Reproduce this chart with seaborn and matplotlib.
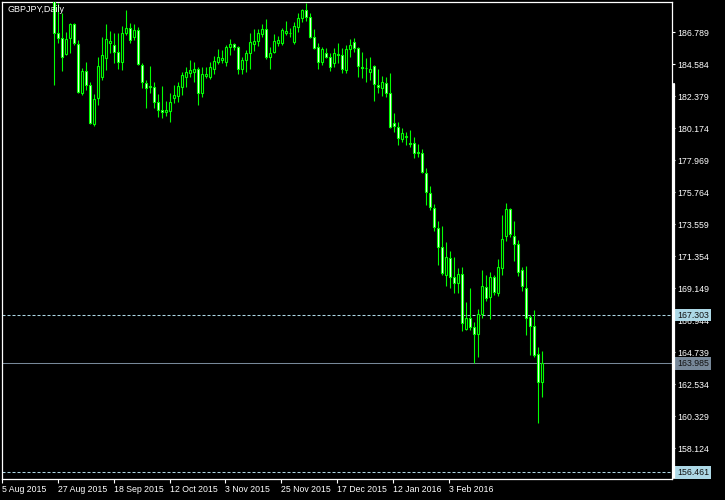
import numpy as np
import pandas as pd
import seaborn as sns
import matplotlib
matplotlib.use("Agg")
import matplotlib.pyplot as plt
from matplotlib.lines import Line2D

# daily GBPJPY candles (bar index 0 = first visible bar)
opens = [189.70, 186.74, 186.40, 185.29, 186.40, 187.36, 185.98, 182.61, 184.12, 183.16,
         180.47, 182.26, 183.71, 185.02, 186.05, 185.91, 185.43, 184.74, 186.74, 187.08,
         186.46, 186.95, 184.54, 183.30, 183.09, 183.02, 181.99, 181.44, 181.30, 181.37,
         182.26, 182.40, 183.02, 183.71, 183.98, 184.05, 184.26, 182.61, 183.78, 183.71,
         184.26, 184.74, 184.88, 184.74, 185.78, 185.98, 185.78, 184.26, 184.88, 185.36,
         185.98, 186.19, 186.67, 187.02, 185.09, 185.43, 186.05, 186.05, 186.74, 186.74,
         186.12, 187.15, 187.77, 188.33, 187.84, 186.46, 185.78, 184.74, 185.36, 185.09,
         184.67, 185.29, 185.22, 184.19, 185.64, 186.12, 185.71, 184.40, 184.33, 184.05,
         184.47, 183.16, 182.95, 183.30, 182.61, 180.54, 180.27, 179.44, 179.57, 179.16,
         179.16, 178.54, 178.47, 177.09, 175.72, 174.68, 173.31, 172.00, 170.07, 171.24,
         169.93, 169.52, 170.14, 166.35, 167.10, 166.48, 166.00, 167.38, 169.24, 168.55,
         169.93, 168.83, 170.55, 172.75, 174.61, 172.75, 172.20, 170.41, 169.17, 167.17,
         166.55, 164.62, 162.70]
highs = [190.30, 188.81, 188.12, 186.81, 187.43, 187.43, 186.26, 184.33, 184.74, 183.36,
         182.54, 185.09, 186.46, 187.36, 186.88, 186.74, 186.74, 187.22, 188.33, 187.43,
         187.36, 187.15, 184.67, 183.50, 184.47, 183.36, 182.54, 183.09, 182.06, 182.61,
         183.16, 183.36, 184.05, 184.40, 184.88, 184.74, 184.40, 184.40, 184.40, 184.74,
         185.16, 185.64, 185.57, 185.91, 186.33, 186.05, 185.85, 185.09, 185.57, 186.74,
         187.02, 187.02, 187.36, 187.70, 185.78, 186.67, 186.53, 187.08, 187.57, 187.08,
         187.50, 188.12, 188.39, 188.81, 188.12, 187.02, 186.05, 185.78, 185.71, 185.36,
         185.71, 186.05, 185.71, 185.91, 186.33, 186.40, 185.78, 185.43, 185.02, 185.09,
         184.53, 184.26, 183.78, 183.71, 183.98, 181.23, 180.61, 180.19, 179.92, 180.06,
         179.57, 179.09, 178.75, 177.44, 176.20, 174.96, 173.79, 173.44, 172.34, 171.72,
         171.31, 170.55, 170.62, 168.21, 169.17, 166.83, 167.72, 170.41, 170.07, 170.27,
         170.07, 171.17, 174.20, 175.03, 174.68, 173.79, 172.48, 170.62, 170.69, 167.31,
         167.65, 165.11, 164.83]
lows = [183.16, 186.05, 184.12, 185.20, 185.36, 185.91, 182.61, 182.47, 182.81, 180.47,
        180.33, 181.78, 183.50, 184.19, 185.36, 184.67, 184.26, 184.19, 186.60, 186.05,
        186.26, 184.54, 182.95, 181.57, 182.61, 181.57, 180.95, 180.88, 181.02, 180.61,
        181.92, 181.99, 182.47, 183.02, 183.71, 183.36, 181.78, 182.33, 183.64, 183.57,
        183.92, 184.60, 184.67, 184.47, 185.22, 185.57, 183.92, 183.92, 184.05, 184.26,
        185.50, 185.85, 186.46, 184.95, 184.26, 185.36, 185.85, 185.91, 186.60, 186.46,
        185.98, 186.81, 187.50, 187.57, 186.40, 185.64, 184.26, 184.54, 185.02, 184.12,
        184.40, 184.67, 183.98, 183.98, 185.09, 185.43, 183.71, 183.64, 183.36, 183.50,
        182.06, 182.61, 182.40, 182.33, 180.20, 179.92, 179.02, 179.23, 179.02, 178.89,
        178.13, 178.20, 177.09, 174.89, 174.55, 173.10, 170.76, 170.07, 169.31, 169.17,
        168.83, 168.83, 166.21, 166.28, 166.28, 164.00, 164.42, 167.10, 168.27, 167.04,
        168.69, 168.62, 170.07, 172.41, 172.69, 171.03, 170.00, 168.97, 165.93, 164.55,
        164.42, 159.87, 161.66]
closes = [186.74, 186.40, 185.09, 186.33, 187.36, 186.05, 182.68, 184.12, 183.16, 180.54,
          182.19, 184.47, 185.22, 186.33, 186.19, 185.43, 184.74, 186.74, 187.08, 186.26,
          186.95, 184.60, 183.36, 182.95, 183.02, 181.99, 181.44, 181.30, 181.44, 181.99,
          182.47, 183.09, 183.85, 184.05, 184.19, 184.26, 182.61, 183.92, 183.92, 184.40,
          184.81, 185.09, 185.02, 185.78, 185.98, 185.78, 184.26, 184.88, 185.36, 186.12,
          186.19, 186.74, 187.02, 185.09, 185.36, 186.19, 186.26, 186.95, 186.88, 186.71,
          187.22, 187.77, 188.33, 187.84, 186.46, 185.71, 184.74, 185.64, 185.09, 184.40,
          185.36, 185.22, 184.26, 185.64, 185.91, 185.71, 184.47, 184.33, 184.30, 184.26,
          183.23, 183.02, 183.36, 182.61, 180.27, 180.33, 179.51, 179.85, 179.64, 179.09,
          178.47, 178.47, 177.16, 175.79, 174.75, 173.37, 172.00, 170.21, 171.31, 169.93,
          169.52, 170.14, 166.76, 167.10, 166.48, 166.00, 167.38, 169.31, 168.48, 169.93,
          168.90, 170.62, 172.55, 174.61, 172.89, 172.20, 170.27, 169.31, 167.10, 166.55,
          164.55, 162.70, 163.985]

# axis labels
date_ticks = [-13, 0.9, 14.9, 28.9, 42.8, 56.8, 70.8, 84.8, 98.8]
date_labels = ["5 Aug 2015", "27 Aug 2015", "18 Sep 2015", "12 Oct 2015", "3 Nov 2015",
               "25 Nov 2015", "17 Dec 2015", "12 Jan 2016", "3 Feb 2016"]
price_ticks = [186.789, 184.584, 182.379, 180.174, 177.969, 175.764, 173.559,
               171.354, 169.149, 166.944, 164.739, 162.534, 160.329, 158.124]
level_high = 167.303
level_low = 156.461
bid = 163.985

df = pd.DataFrame(dict(open=opens, high=highs, low=lows, close=closes))
df["idx"] = np.arange(len(df))
df["bull"] = df["close"] >= df["open"]

sns.set_theme(style="dark", rc={
    "figure.facecolor": "black",
    "axes.facecolor": "black",
    "axes.edgecolor": "white",
    "text.color": "white",
    "xtick.color": "white",
    "ytick.color": "white",
})
plt.rcParams["font.family"] = ["Liberation Sans", "DejaVu Sans"]

fig = plt.figure(figsize=(7.25, 5), dpi=100)
ax = fig.add_axes([2 / 725, 21 / 500, 670 / 725, 477 / 500])

green = "#00ff00"
ax.vlines(df["idx"], df["low"], df["high"], color=green, lw=0.8, zorder=2)
body_bottom = df[["open", "close"]].min(axis=1)
body_height = (df["close"] - df["open"]).abs().clip(lower=0.03)
fills = np.where(df["bull"], "black", "white")
ax.bar(df["idx"], body_height, bottom=body_bottom, width=0.55, color=fills,
       edgecolor=green, linewidth=0.8, zorder=3)

ax.axhline(level_high, color="#add8e6", lw=0.75, ls=(0, (2.9, 1.9)), zorder=1)
ax.axhline(level_low, color="#add8e6", lw=0.75, ls=(0, (2.9, 1.9)), zorder=1)
ax.axhline(bid, color="#778899", lw=0.75, zorder=1)

ax.set_xlim(-13, 154.5)
ax.set_ylim(156.01, 188.877)

for s in ax.spines.values():
    s.set_color("white")
    s.set_linewidth(0.9)

ax.yaxis.tick_right()
ax.set_yticks(price_ticks)
ax.set_yticklabels([f"{p:.3f}" for p in price_ticks])
ax.set_xticks(date_ticks)
ax.set_xticklabels(date_labels, ha="left")
ax.tick_params(axis="y", direction="out", length=2.5, width=0.8, pad=1.5,
               labelsize=6.3, colors="white", right=True, left=False)
ax.tick_params(axis="x", direction="out", length=3, width=0.8, pad=1.5,
               labelsize=6.3, colors="white", bottom=True)
ax.grid(False)
ax.set_xlabel("")
ax.set_ylabel("")

# price boxes on the right scale
ytr = ax.get_yaxis_transform()
for val, fc in [(level_high, "#add8e6"), (bid, "#778899"), (level_low, "#add8e6")]:
    ax.text(1 + 5 / 670, val, f"{val:.3f}", transform=ytr, ha="left", va="center",
            fontsize=6.3, color="#111111", zorder=5,
            bbox=dict(boxstyle="square,pad=0.2", fc=fc, ec="none"))

ax.text(5 / 670, 1 - 3 / 477, "GBPJPY,Daily", transform=ax.transAxes,
        ha="left", va="top", fontsize=6.5, color="white")

# scroll marker on the right border
fig.add_artist(Line2D([673.5 / 725, 673.5 / 725], [1 - 84 / 500, 1 - 478 / 500],
                      color="white", lw=1.6))

fig.savefig("out.png", dpi=100, facecolor="black")
